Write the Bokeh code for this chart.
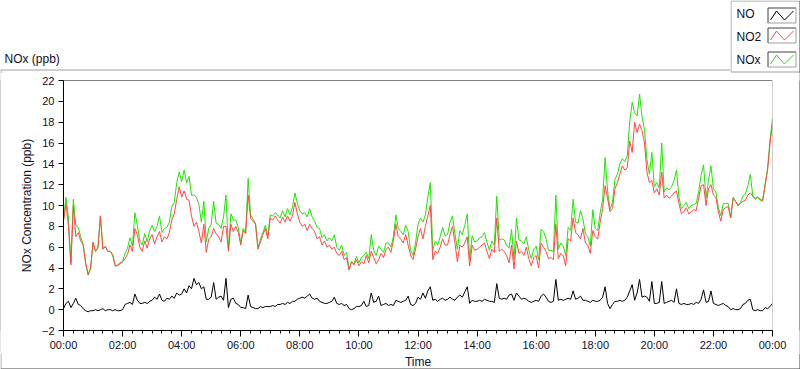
from bokeh.plotting import figure
from bokeh.models import FixedTicker, Span, Range1d
from bokeh.layouts import column, row
from bokeh.core.properties import value
from bokeh.embed import file_html
from bokeh.resources import INLINE

# ---------------- data (5-minute readings, 00:00 .. 24:00) ----------------
minutes = list(range(0, 1441, 5))

no2 = [
    8.5, 10.2, 8.0, 4.3, 10.0, 7.0, 7.4, 6.6, 6.2, 4.5, 3.4, 4.0,
    6.5, 5.6, 6.0, 9.0, 5.8, 6.1, 5.6, 5.6, 5.3, 4.2, 4.3, 4.5,
    4.6, 4.9, 5.3, 6.2, 5.6, 7.8, 7.2, 6.0, 5.6, 6.6, 5.9, 6.8,
    7.2, 6.3, 7.0, 7.5, 6.5, 7.0, 6.8, 7.4, 8.6, 9.2, 10.6, 11.8,
    10.8, 11.4, 10.6, 10.5, 9.0, 8.0, 8.4, 7.5, 6.4, 8.2, 5.5, 6.8,
    7.0, 7.8, 7.3, 7.0, 6.5, 8.0, 8.0, 5.6, 8.2, 7.5, 8.0, 7.4,
    6.2, 7.6, 7.3, 11.0, 8.8, 8.5, 8.2, 5.8, 6.5, 7.2, 7.8, 6.8,
    8.8, 8.6, 9.0, 8.6, 8.3, 8.9, 8.4, 9.0, 8.5, 9.0, 10.3, 9.2,
    8.4, 8.0, 8.2, 7.6, 8.2, 7.8, 7.5, 6.8, 7.0, 6.2, 6.6, 6.0,
    6.2, 5.8, 6.0, 5.4, 5.2, 5.6, 4.8, 5.0, 3.8, 4.6, 4.3, 4.8,
    4.2, 4.6, 4.4, 5.2, 4.5, 5.6, 5.0, 4.4, 4.8, 5.4, 5.0, 5.8,
    6.0, 5.5, 6.6, 8.2, 7.0, 6.8, 6.4, 7.2, 6.2, 5.2, 4.8, 5.8,
    7.0, 7.8, 6.8, 8.0, 9.0, 10.0, 4.8, 5.6, 5.4, 6.0, 6.8, 6.2,
    6.2, 7.2, 8.0, 6.4, 4.6, 6.2, 6.0, 6.4, 7.0, 4.2, 6.2, 5.7,
    5.8, 6.0, 6.2, 6.4, 5.6, 4.9, 5.8, 5.5, 8.8, 5.6, 5.8, 5.6,
    5.2, 4.5, 6.2, 3.9, 6.6, 5.4, 5.6, 5.2, 6.0, 4.9, 4.2, 5.0,
    5.2, 4.0, 6.4, 6.0, 5.6, 4.9, 5.0, 4.8, 8.2, 4.9, 5.4, 5.2,
    4.2, 6.8, 6.6, 8.8, 7.4, 7.2, 6.8, 7.8, 6.4, 6.2, 5.4, 7.6,
    7.0, 6.8, 8.4, 9.7, 11.9, 10.7, 9.4, 9.7, 11.6, 12.2, 13.0, 13.8,
    13.4, 13.6, 16.2, 15.1, 18.0, 17.0, 17.8, 17.2, 16.0, 13.2, 12.2, 12.4,
    11.2, 11.6, 11.0, 13.2, 10.7, 11.0, 10.7, 10.9, 11.2, 11.4, 10.2, 9.2,
    9.4, 9.8, 9.2, 9.4, 9.6, 9.5, 10.7, 11.9, 12.0, 10.0, 11.6, 12.0,
    11.0, 10.8, 9.4, 8.5, 9.6, 9.8, 9.9, 8.8, 10.7, 10.4, 10.0, 10.2,
    10.4, 10.5, 11.0, 11.2, 10.9, 10.7, 10.8, 10.6, 10.5, 11.9, 13.4, 16.0,
    17.8,
]

no = [
    0.1, 0.6, 0.8, 0.2, 0.6, 1.1, 0.5, 0.4, 0.1, -0.1, -0.2, -0.1,
    -0.1, 0.0, -0.1, 0.0, 0.1, -0.1, 0.0, 0.0, -0.1, 0.0, -0.1, -0.1,
    0.0, 0.5, 0.6, 0.7, 0.5, 1.5, 0.9, 0.6, 0.6, 0.7, 0.6, 0.8,
    0.9, 1.2, 1.0, 1.5, 0.9, 0.8, 1.1, 1.0, 1.3, 1.1, 1.6, 1.4,
    1.5, 2.0, 1.6, 2.3, 2.0, 3.0, 2.4, 2.6, 2.0, 2.2, 1.0, 1.0,
    1.2, 2.6, 1.0, 1.2, 1.3, 0.9, 3.0, 0.2, 1.0, 1.1, 0.6, 0.5,
    0.2, 0.2, 0.1, 1.4, 0.3, 0.2, 0.1, 0.1, 0.3, 0.2, 0.3, 0.3,
    0.3, 0.4, 0.3, 0.5, 0.5, 0.6, 0.5, 0.7, 0.6, 0.8, 0.8, 1.0,
    1.1, 1.2, 1.1, 1.3, 1.5, 1.1, 1.0, 1.1, 0.8, 0.7, 0.6, 0.6,
    0.7, 0.8, 1.2, 0.6, 0.5, 0.6, 0.4, 0.5, 0.1, 0.0, 0.1, 0.3,
    0.3, 0.4, 0.8, 0.3, 0.4, 1.6, 0.7, 0.8, 1.3, 0.4, 0.5, 0.6,
    0.4, 0.5, 0.4, 0.9, 0.8, 0.7, 0.8, 0.9, 1.3, 0.5, 0.4, 0.6,
    1.2, 1.0, 1.6, 1.1, 1.8, 2.2, 0.9, 1.0, 0.8, 1.0, 1.1, 0.9,
    1.0, 1.2, 1.0, 0.9, 1.2, 1.4, 1.2, 1.7, 2.2, 0.6, 0.9, 0.8,
    0.8, 0.9, 0.8, 1.0, 0.9, 0.8, 0.8, 0.7, 2.5, 1.1, 1.0, 1.1,
    1.0, 1.4, 1.5, 0.9, 1.6, 1.3, 1.0, 1.1, 1.0, 0.8, 0.7, 0.8,
    0.9, 0.8, 1.3, 1.5, 1.2, 0.8, 0.7, 0.8, 2.9, 0.9, 1.0, 0.9,
    1.0, 1.1, 1.0, 1.8, 1.0, 1.1, 1.3, 0.9, 0.9, 0.8, 0.7, 0.9,
    0.8, 0.8, 0.9, 1.2, 2.2, 0.6, 0.1, 0.5, 0.8, 0.8, 0.9, 0.8,
    0.9, 1.2, 1.8, 2.4, 0.9, 1.6, 2.9, 1.2, 1.3, 1.2, 0.8, 2.7,
    0.6, 0.6, 0.7, 2.7, 0.6, 0.7, 0.8, 0.9, 0.7, 2.0, 0.6, 0.5,
    0.6, 0.5, 0.5, 0.6, 0.5, 0.7, 0.6, 1.0, 1.9, 0.7, 0.8, 1.8,
    0.6, 0.5, 0.4, 0.5, 0.6, 0.4, 0.3, 0.0, 0.1, 0.0, 0.0, 0.1,
    0.5, 0.6, 0.9, 1.0, 0.0, -0.1, 0.0, -0.1, -0.1, 0.2, 0.1, 0.3,
    0.6,
]

nox = [
    8.6, 10.8, 8.8, 4.5, 10.6, 8.1, 7.9, 7.0, 6.3, 4.4, 3.3, 3.9,
    6.4, 5.6, 5.9, 9.0, 5.9, 6.0, 5.6, 5.6, 5.2, 4.2, 4.2, 4.4,
    4.6, 5.4, 5.9, 6.9, 6.1, 9.3, 8.1, 6.6, 6.2, 7.3, 6.5, 7.6,
    8.1, 7.5, 8.0, 9.0, 7.4, 7.8, 7.9, 8.4, 9.9, 10.3, 12.2, 13.2,
    12.3, 13.4, 12.2, 12.8, 11.0, 11.0, 10.8, 10.1, 8.4, 10.4, 6.5, 7.8,
    8.2, 10.4, 8.3, 8.2, 7.8, 8.9, 11.0, 5.8, 9.2, 8.6, 8.6, 7.9,
    6.4, 7.8, 7.4, 12.6, 9.1, 8.7, 8.3, 5.9, 6.8, 7.4, 8.1, 7.1,
    9.1, 9.0, 9.3, 9.1, 8.8, 9.5, 8.9, 9.7, 9.1, 9.8, 11.2, 10.2,
    9.5, 9.2, 9.3, 8.9, 9.7, 8.9, 8.5, 7.9, 7.8, 6.9, 7.2, 6.6,
    6.9, 6.6, 7.2, 6.0, 5.7, 6.2, 5.2, 5.5, 3.9, 4.6, 4.4, 5.1,
    4.5, 5.0, 5.2, 5.5, 4.9, 7.2, 5.7, 5.2, 6.1, 5.8, 5.5, 6.4,
    6.4, 6.0, 7.0, 9.1, 7.8, 7.5, 7.2, 8.1, 7.5, 5.7, 5.2, 6.4,
    8.2, 8.8, 8.4, 9.1, 10.8, 12.2, 5.7, 6.6, 6.2, 7.0, 7.9, 7.1,
    7.2, 8.4, 9.0, 7.3, 5.8, 7.6, 7.2, 8.1, 9.2, 4.8, 7.1, 6.5,
    6.6, 6.9, 7.0, 7.4, 6.5, 5.7, 6.6, 6.2, 10.9, 6.7, 6.8, 6.7,
    6.2, 5.9, 7.7, 4.8, 8.8, 6.7, 6.6, 6.3, 7.0, 5.7, 4.9, 5.8,
    6.1, 4.8, 7.7, 7.5, 6.8, 5.7, 5.7, 5.6, 11.0, 5.8, 6.4, 6.1,
    5.2, 7.9, 7.6, 10.6, 8.4, 8.3, 9.5, 8.7, 7.3, 7.0, 6.1, 9.6,
    7.8, 7.6, 9.3, 10.6, 14.6, 11.4, 9.6, 10.3, 12.5, 13.0, 14.0, 14.5,
    14.2, 14.8, 18.0, 19.9, 18.9, 18.6, 20.7, 18.5, 17.3, 14.4, 13.0, 15.1,
    11.8, 12.2, 11.7, 16.0, 11.3, 11.7, 11.5, 11.8, 12.4, 13.4, 10.8, 9.7,
    10.0, 10.3, 9.7, 10.0, 10.1, 10.2, 11.3, 12.9, 13.9, 10.7, 12.4, 13.8,
    11.6, 11.3, 9.8, 9.0, 10.2, 10.2, 10.2, 8.8, 10.8, 10.4, 10.0, 10.3,
    10.9, 11.1, 11.9, 13.0, 10.9, 10.6, 10.8, 10.5, 10.4, 12.1, 13.5, 16.3,
    18.4,
]

tick_hours = [0, 2, 4, 6, 8, 10, 12, 14, 16, 18, 20, 22, 24]
tick_labels = ["00:00", "02:00", "04:00", "06:00", "08:00", "10:00", "12:00",
               "14:00", "16:00", "18:00", "20:00", "22:00", "00:00"]
y_ticks = [-2, 0, 2, 4, 6, 8, 10, 12, 14, 16, 18, 20, 22]
series_names = ["NO", "NO2", "NOx"]
series_colors = ["#000000", "#ff4848", "#1ee600"]
x_title = "Time"
y_title = "NOx Concentration (ppb)"
caption = "NOx (ppb)"

hours = [m / 60.0 for m in minutes]

FONT = "Liberation Sans"
TXT = "#101028"
LIGHT = "#a0a0a0"
DARK = "#404040"


def deco(width, height, x0, y0, bg="white"):
    """Plain pixel-space figure used for the panel decorations."""
    f = figure(width=width, height=height,
               x_range=Range1d(x0, x0 + width), y_range=Range1d(y0 + height, y0),
               min_border=0, x_axis_type=None, y_axis_type=None,
               output_backend="svg", toolbar_location=None)
    f.outline_line_color = None
    f.background_fill_color = bg
    f.border_fill_color = bg
    return f


# ---------------- caption strip ----------------
cap = deco(730, 73, 0, 0)
cap.segment(x0=[0, 0.5], y0=[69.5, 69.5], x1=[730, 0.5], y1=[69.5, 73],
            line_color=LIGHT, line_width=1)
cap.text(x=[4], y=[58], text=[caption], text_font=value(FONT),
         text_font_size=value("12px"), text_color=TXT,
         text_baseline="middle", text_align="left")

# ---------------- legend ----------------
leg = deco(70, 73, 730, 0)
leg.segment(x0=[730.5, 730.5, 730.5], y0=[0.5, 0.5, 71.5],
            x1=[799.5, 730.5, 799.5], y1=[0.5, 71.5, 71.5],
            line_color=LIGHT, line_width=1)
leg.segment(x0=[799.5], y0=[0.5], x1=[799.5], y1=[73], line_color=DARK, line_width=1)
text_rows = [13, 36, 59]
box_rows = [15, 35, 59]
leg.text(x=[736] * 3, y=text_rows, text=series_names, text_font=value(FONT),
         text_font_size=value("12px"), text_color=TXT,
         text_baseline="middle", text_align="left")
for color, cy in zip(series_colors, box_rows):
    t, b = cy - 7.5, cy + 7.5
    l, r = 767.5, 795.5
    leg.segment(x0=[l, l], y0=[t, t], x1=[r, l], y1=[t, b], line_color=DARK, line_width=1)
    leg.segment(x0=[l, r], y0=[b, t], x1=[r, r], y1=[b, b], line_color=LIGHT, line_width=1)
    leg.line(x=[770, 776, 784, 793], y=[b - 3, t + 3, b - 3, t + 3],
             line_color=color, line_width=1)

# ---------------- main chart ----------------
MAIN_H = 280
p = figure(width=798, height=MAIN_H,
           min_border_left=62, min_border_right=27,
           min_border_top=7, min_border_bottom=23,
           x_range=Range1d(0, 24), y_range=Range1d(-2, 22),
           output_backend="svg", toolbar_location=None)
p.background_fill_color = "white"
p.border_fill_color = "white"
p.outline_line_color = None
p.xgrid.grid_line_color = None
p.ygrid.grid_line_color = None

p.line(hours, nox, line_color=series_colors[2], line_width=1)
p.line(hours, no2, line_color=series_colors[1], line_width=1)
p.line(hours, no, line_color=series_colors[0], line_width=1)

minor = [k * 20 / 60.0 for k in range(0, 73)]
xa = p.xaxis[0]
xa.ticker = FixedTicker(ticks=tick_hours, minor_ticks=minor)
xa.major_label_overrides = {h: t for h, t in zip(tick_hours, tick_labels)}
xa.major_tick_out = 6
xa.major_tick_in = 0
xa.minor_tick_out = 3
xa.minor_tick_in = 0
xa.major_label_standoff = 2

ya = p.yaxis[0]
ya.ticker = FixedTicker(ticks=y_ticks, minor_ticks=[])
ya.major_tick_out = 5
ya.major_tick_in = 0
ya.minor_tick_out = 0
ya.minor_tick_in = 0
ya.major_label_standoff = 4
ya.axis_label = y_title
ya.axis_label_standoff = 5

for ax in (xa, ya):
    ax.axis_line_color = "black"
    ax.major_tick_line_color = "black"
    ax.minor_tick_line_color = "black"
    ax.major_label_text_font = FONT
    ax.major_label_text_font_size = "11px"
    ax.major_label_text_color = TXT
    ax.axis_label_text_font = FONT
    ax.axis_label_text_font_size = "12px"
    ax.axis_label_text_font_style = "normal"
    ax.axis_label_text_color = TXT

p.add_layout(Span(location=22, dimension="width", line_color="black", line_width=1))
p.add_layout(Span(location=24, dimension="height", line_color=LIGHT, line_width=1))

# ---------------- panel edges and x-axis title strip ----------------
Y_MAIN = 73
Y_FOOT = Y_MAIN + MAIN_H
FOOT_H = 369 - Y_FOOT
left_edge = deco(1, MAIN_H, 0, Y_MAIN, bg=LIGHT)
right_edge = deco(1, MAIN_H, 799, Y_MAIN, bg=DARK)

foot = deco(800, FOOT_H, 0, Y_FOOT)
foot.segment(x0=[0.5], y0=[Y_FOOT], x1=[0.5], y1=[368], line_color=LIGHT, line_width=1)
foot.segment(x0=[0, 799.5], y0=[368.5, Y_FOOT], x1=[800, 799.5], y1=[368.5, 369],
             line_color=DARK, line_width=1)
foot.text(x=[417.5], y=[361], text=[x_title], text_font=value(FONT),
          text_font_size=value("12px"), text_color=TXT,
          text_baseline="middle", text_align="center")

layout = column(row(cap, leg), row(left_edge, p, right_edge), foot)

open("out.html", "w").write(file_html(layout, INLINE))
